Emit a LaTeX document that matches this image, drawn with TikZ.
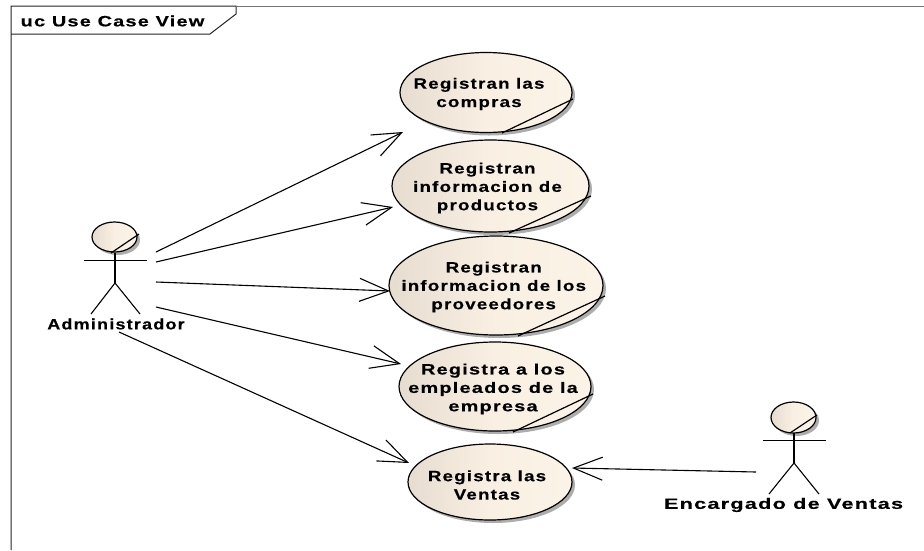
\documentclass[tikz,border=0pt]{standalone}
\usepackage{fontspec}
\usetikzlibrary{arrows.meta,shapes.geometric,shadows}
\newfontfamily\lab[FakeStretch=1.25,LetterSpace=8,FakeBold=0.3,BoldFont={Liberation Sans Bold}]{Liberation Sans Bold}
\newfontfamily\labA[FakeStretch=1.2,LetterSpace=8,FakeBold=0.3]{Liberation Sans Bold}
\newfontfamily\labB[FakeStretch=1.33,LetterSpace=8,FakeBold=0.3]{Liberation Sans Bold}
\newfontfamily\labC[FakeStretch=1.45,LetterSpace=8,FakeBold=0.3]{Liberation Sans Bold}
\definecolor{ucL}{HTML}{E6DDD0}
\definecolor{ucM}{HTML}{F9F0E3}
\definecolor{ucR}{HTML}{FBF3E7}
\tikzset{
  ucase/.style={shape=ellipse,draw=black,line width=1.2pt,inner sep=0pt,
    left color=ucL,right color=ucR,middle color=ucM,
    general shadow={shadow xshift=3pt,shadow yshift=-3pt,fill=black,opacity=.32}},
  uctext/.style={align=center,inner sep=0pt,font=\lab\fontsize{15}{18.4}\selectfont},
  uctextA/.style={align=center,inner sep=0pt,font=\labA\fontsize{15}{18.4}\selectfont},
  uctextB/.style={align=center,inner sep=0pt,font=\labB\fontsize{15}{18.4}\selectfont},
  uctextC/.style={align=center,inner sep=0pt,font=\labC\fontsize{15}{18.4}\selectfont},
  fold/.style={line width=1.2pt,black},
  stick/.style={line width=1.1pt,black},
  armline/.style={line width=.9pt,black},
  conn/.style={line width=1.1pt,black,-{Straight Barb[length=29pt,width=23pt,line width=1.1pt]}},
  framel/.style={line width=1pt,black!85},
}
\begin{document}
\begin{tikzpicture}[x=1pt,y=-1pt]
\useasboundingbox (0,0) rectangle (924,550);
\fill[white] (0,0) rectangle (924,550);
% frame
\coordinate (fa) at (11,550);
\coordinate (fb) at (11,6);
\coordinate (fc) at (236,6);
\coordinate (fd) at (236,14);
\coordinate (fe) at (210,34);
\coordinate (ff) at (11,34);
\coordinate (fg) at (924,6);
\draw[framel] (fa) -- (fb) -- (fc) -- (fd) -- (fe) -- (ff);
\draw[line width=.8pt,black!55] (fc) -- (fg);
\node[uctextB] (title) at (112.5,21) {uc Use Case View};
% use cases
\node[ucase,minimum width=172pt,minimum height=80pt] (e1) at (486,92.5) {};
\node[ucase,minimum width=197pt,minimum height=92pt] (e2) at (490.5,186) {};
\node[ucase,minimum width=214pt,minimum height=99pt] (e3) at (496,285.5) {};
\node[ucase,minimum width=192pt,minimum height=89pt] (e4) at (495,386.5) {};
\node[ucase,minimum width=164pt,minimum height=76pt] (e5) at (490,482) {};
\node[uctext] (t1) at (479,94) {Registran las\\compras};
\node[uctext] (t2) at (487.5,188) {Registran\\informacion de\\productos};
\node[uctext] (t3) at (493.7,287) {Registran\\informacion de los\\proveedores};
\node[uctextB] (t4) at (493,389) {Registra a los\\empleados de la\\empresa};
\node[uctext] (t5) at (487,485) {Registra las\\Ventas};
% folds
\coordinate (f1a) at (502,133); \coordinate (f1b) at (573,99);
\coordinate (f2a) at (509,233); \coordinate (f2b) at (591,196);
\coordinate (f3a) at (518,336); \coordinate (f3b) at (605,296);
\coordinate (f4a) at (513,432); \coordinate (f4b) at (593,394);
\draw[fold] (f1a) -- (f1b);
\draw[fold] (f2a) -- (f2b);
\draw[fold] (f3a) -- (f3b);
\draw[fold] (f4a) -- (f4b);
% actor 1
\node[ucase,minimum width=45pt,minimum height=30pt] (h1) at (114.5,237) {};
\coordinate (n1) at (115,253);
\coordinate (hf0) at (111,253);
\coordinate (hf1) at (139,234);
\coordinate (c1) at (115,283);
\coordinate (al1) at (84,260.5);
\coordinate (ar1) at (147,260.5);
\coordinate (ll1) at (91,314);
\coordinate (lr1) at (140,314);
\draw[fold] (hf0) -- (hf1);
\draw[stick] (n1) -- (c1);
\draw[armline] (al1) -- (ar1);
\draw[stick] (ll1) -- (c1) -- (lr1);
\node[uctextA] (l1) at (116,324) {Administrador};
% actor 2
\node[ucase,minimum width=45pt,minimum height=31pt] (h2) at (793.5,417.5) {};
\coordinate (n2) at (794,433);
\coordinate (hg0) at (790,433);
\coordinate (hf2) at (817,415);
\coordinate (c2) at (794,463);
\coordinate (al2) at (763,440.5);
\coordinate (ar2) at (826,440.5);
\coordinate (ll2) at (769,494);
\coordinate (lr2) at (819,494);
\draw[fold] (hg0) -- (hf2);
\draw[stick] (n2) -- (c2);
\draw[armline] (al2) -- (ar2);
\draw[stick] (ll2) -- (c2) -- (lr2);
\node[uctextC] (l2) at (783.5,505) {Encargado de Ventas};
% connectors
\coordinate (s1) at (156,252); \coordinate (d1) at (403,132);
\coordinate (s2) at (156,262); \coordinate (d2) at (393,207);
\coordinate (s3) at (156,282); \coordinate (d3) at (390,291);
\coordinate (s4) at (156,307); \coordinate (d4) at (401,364);
\coordinate (s5) at (119,332); \coordinate (d5) at (409,463);
\coordinate (s6) at (756,472); \coordinate (d6) at (572,468);
\draw[conn] (s1) -- (d1);
\draw[conn] (s2) -- (d2);
\draw[conn] (s3) -- (d3);
\draw[conn] (s4) -- (d4);
\draw[conn] (s5) -- (d5);
\draw[conn] (s6) -- (d6);
\end{tikzpicture}
\end{document}
